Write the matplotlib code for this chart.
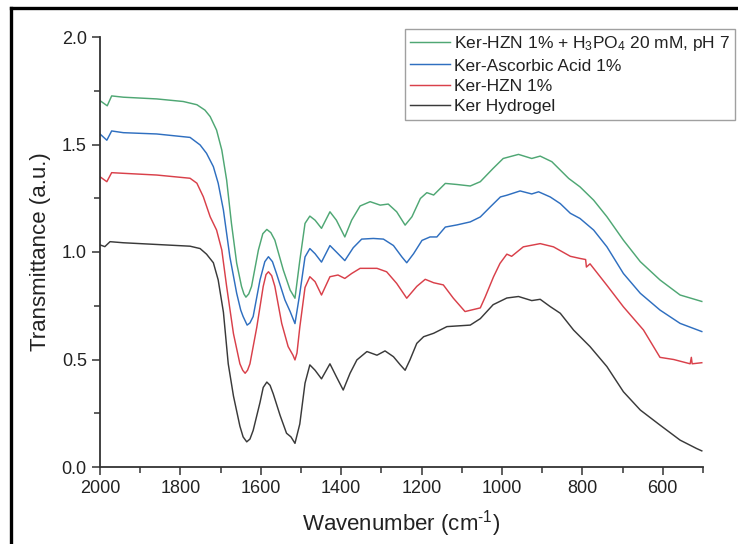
import matplotlib
matplotlib.use("Agg")
import matplotlib.pyplot as plt
from matplotlib.ticker import MultipleLocator, FormatStrFormatter
from matplotlib.lines import Line2D

plt.rcParams['font.family'] = ['Liberation Sans', 'DejaVu Sans']
plt.rcParams['mathtext.fontset'] = 'custom'
plt.rcParams['mathtext.rm'] = 'Liberation Sans'
plt.rcParams['mathtext.it'] = 'Liberation Sans:italic'
plt.rcParams['mathtext.default'] = 'rm'

# ---------------- data ----------------
wn_black = [2000, 1988, 1975, 1942, 1859, 1776, 1751, 1735, 1718, 1706, 1693, 1681, 1668, 1652,
            1644, 1635, 1627, 1619, 1602, 1594, 1585, 1577, 1569, 1552, 1536, 1525, 1515, 1503,
            1490, 1478, 1465, 1449, 1428, 1412, 1395, 1378, 1361, 1336, 1311, 1291, 1270, 1253,
            1241, 1229, 1212, 1195, 1170, 1137, 1112, 1079, 1054, 1022, 988, 959, 926, 905, 880,
            855, 822, 781, 739, 698, 656, 607, 557, 516, 503]
t_black = [1.033, 1.025, 1.048, 1.043, 1.035, 1.027, 1.016, 0.99, 0.95, 0.87, 0.72, 0.48, 0.33, 0.19,
           0.14, 0.117, 0.13, 0.17, 0.30, 0.37, 0.395, 0.38, 0.34, 0.24, 0.157, 0.14, 0.11, 0.20,
           0.39, 0.475, 0.45, 0.41, 0.48, 0.42, 0.358, 0.436, 0.498, 0.537, 0.52, 0.54, 0.513, 0.475,
           0.45, 0.498, 0.575, 0.606, 0.622, 0.653, 0.656, 0.66, 0.69, 0.755, 0.786, 0.793, 0.774,
           0.78, 0.746, 0.715, 0.637, 0.56, 0.467, 0.35, 0.265, 0.195, 0.125, 0.086, 0.075]

wn_red = [2000, 1983, 1971, 1942, 1859, 1776, 1759, 1743, 1726, 1710, 1697, 1685, 1668, 1652, 1645,
          1639, 1633, 1627, 1610, 1594, 1587, 1581, 1573, 1565, 1548, 1532, 1520, 1515, 1510, 1503,
          1490, 1478, 1465, 1449, 1428, 1408, 1391, 1374, 1353, 1311, 1287, 1262, 1237, 1212, 1191,
          1170, 1146, 1121, 1092, 1054, 1042, 1021, 1005, 988, 976, 947, 905, 872, 830, 806, 792,
          790, 781, 739, 698, 648, 607, 573, 532, 529, 527, 503]
t_red = [1.35, 1.327, 1.369, 1.366, 1.358, 1.343, 1.32, 1.257, 1.164, 1.102, 1.009, 0.84, 0.62, 0.48,
         0.45, 0.436, 0.45, 0.48, 0.65, 0.84, 0.895, 0.908, 0.89, 0.84, 0.668, 0.56, 0.52, 0.498, 0.53,
         0.65, 0.835, 0.885, 0.862, 0.80, 0.885, 0.893, 0.877, 0.90, 0.924, 0.924, 0.908, 0.854,
         0.785, 0.84, 0.873, 0.857, 0.847, 0.785, 0.723, 0.74, 0.79, 0.885, 0.947, 0.99, 0.98, 1.024,
         1.039, 1.024, 0.98, 0.97, 0.965, 0.93, 0.945, 0.845, 0.745, 0.637, 0.51, 0.50, 0.48, 0.51,
         0.48, 0.485]

wn_blue = [2000, 1983, 1971, 1942, 1859, 1776, 1751, 1735, 1718, 1706, 1693, 1677, 1660, 1650, 1644,
           1634, 1627, 1619, 1602, 1590, 1581, 1571, 1561, 1540, 1527, 1515, 1503, 1490, 1478, 1465,
           1449, 1428, 1412, 1391, 1370, 1349, 1320, 1295, 1270, 1249, 1237, 1220, 1199, 1179, 1162,
           1141, 1112, 1079, 1054, 1029, 1004, 988, 955, 926, 909, 880, 855, 830, 806, 772, 739, 698,
           656, 607, 557, 503]
t_blue = [1.549, 1.52, 1.563, 1.555, 1.549, 1.533, 1.498, 1.459, 1.397, 1.32, 1.195, 0.978, 0.808,
          0.73, 0.70, 0.66, 0.67, 0.70, 0.87, 0.955, 0.978, 0.955, 0.90, 0.777, 0.723, 0.667, 0.807,
          0.977, 1.016, 0.992, 0.953, 1.03, 1.0, 0.96, 1.02, 1.06, 1.063, 1.06, 1.03, 0.977, 0.95,
          0.992, 1.054, 1.07, 1.07, 1.116, 1.126, 1.14, 1.163, 1.21, 1.256, 1.264, 1.284, 1.27, 1.28,
          1.256, 1.225, 1.18, 1.156, 1.102, 1.024, 0.9, 0.808, 0.73, 0.668, 0.63]

wn_green = [2000, 1982, 1971, 1942, 1859, 1793, 1759, 1739, 1726, 1710, 1697, 1685, 1673, 1660, 1648,
            1642, 1637, 1630, 1623, 1606, 1595, 1585, 1575, 1565, 1544, 1527, 1515, 1503, 1490, 1478,
            1465, 1449, 1428, 1412, 1391, 1374, 1353, 1328, 1303, 1283, 1262, 1241, 1224, 1203, 1187,
            1170, 1141, 1112, 1079, 1054, 1022, 997, 959, 926, 905, 876, 834, 806, 772, 739, 698, 656,
            607, 557, 503]
t_green = [1.704, 1.68, 1.726, 1.72, 1.712, 1.70, 1.685, 1.66, 1.63, 1.567, 1.474, 1.335, 1.133, 0.948,
           0.84, 0.805, 0.79, 0.805, 0.84, 1.009, 1.085, 1.105, 1.09, 1.055, 0.916, 0.823, 0.785, 0.96,
           1.133, 1.167, 1.148, 1.11, 1.187, 1.148, 1.07, 1.148, 1.214, 1.234, 1.218, 1.223, 1.187,
           1.125, 1.164, 1.249, 1.276, 1.265, 1.319, 1.314, 1.307, 1.327, 1.389, 1.435, 1.454, 1.435,
           1.446, 1.42, 1.342, 1.303, 1.241, 1.164, 1.055, 0.955, 0.87, 0.8, 0.77]

labels = ["Ker Hydrogel", "Ker-HZN 1%", "Ker-Ascorbic Acid 1%",
          "Ker-HZN 1% + H$_3$PO$_4$ 20 mM, pH 7"]
colors = ["#3a3a3a", "#d9404a", "#2f6fc0", "#4fa774"]

# ---------------- figure ----------------
fig = plt.figure(figsize=(7.38, 5.44), dpi=100)
ax = fig.add_axes([100 / 738, 1 - 467 / 544, 603 / 738, 430 / 544])

series = [(wn_black, t_black), (wn_red, t_red), (wn_blue, t_blue), (wn_green, t_green)]
handles = []
for (xv, yv), lab, col in zip(series, labels, colors):
    h, = ax.plot(xv, yv, color=col, lw=1.05, label=lab)
    handles.append(h)

ax.set_xlim(2000, 500)
ax.set_ylim(0, 2.0)
ax.xaxis.set_major_locator(MultipleLocator(200))
ax.xaxis.set_minor_locator(MultipleLocator(100))
ax.yaxis.set_major_locator(MultipleLocator(0.5))
ax.yaxis.set_minor_locator(MultipleLocator(0.25))
ax.yaxis.set_major_formatter(FormatStrFormatter('%.1f'))

for s in ['top', 'right']:
    ax.spines[s].set_visible(False)
for s in ['left', 'bottom']:
    ax.spines[s].set_color('#333333')
    ax.spines[s].set_linewidth(1.3)

ax.tick_params(which='major', direction='out', length=6, width=1.1, color='#333333',
               labelsize=13, labelcolor='#222222')
ax.tick_params(which='minor', direction='out', length=4, width=1.1, color='#333333')

ax.set_xlabel(r"Wavenumber (cm$^{\text{-}1}$)", fontsize=16, color='#222222', labelpad=8)
ax.set_ylabel("Transmittance (a.u.)", fontsize=16, color='#222222', labelpad=8)

order = [3, 2, 1, 0]
leg = fig.legend([handles[i] for i in order], [labels[i] for i in order],
                 loc='upper left', bbox_to_anchor=(405 / 738, 1 - 29 / 544),
                 fontsize=12.5, frameon=True, fancybox=False, edgecolor='#888888',
                 handlelength=2.3, handletextpad=0.2, labelspacing=0.3,
                 borderpad=0.3, borderaxespad=0)
leg.get_frame().set_linewidth(1.0)
for t in leg.get_texts():
    t.set_color('#222222')

# outer frame lines (left and top edges of the picture border)
fig.add_artist(Line2D([11 / 738, 11 / 738], [0, 1 - 8 / 544], transform=fig.transFigure,
                      color='black', lw=2.4))
fig.add_artist(Line2D([11 / 738, 1], [1 - 8 / 544, 1 - 8 / 544], transform=fig.transFigure,
                      color='black', lw=2.4))

fig.savefig("out.png", dpi=100)
